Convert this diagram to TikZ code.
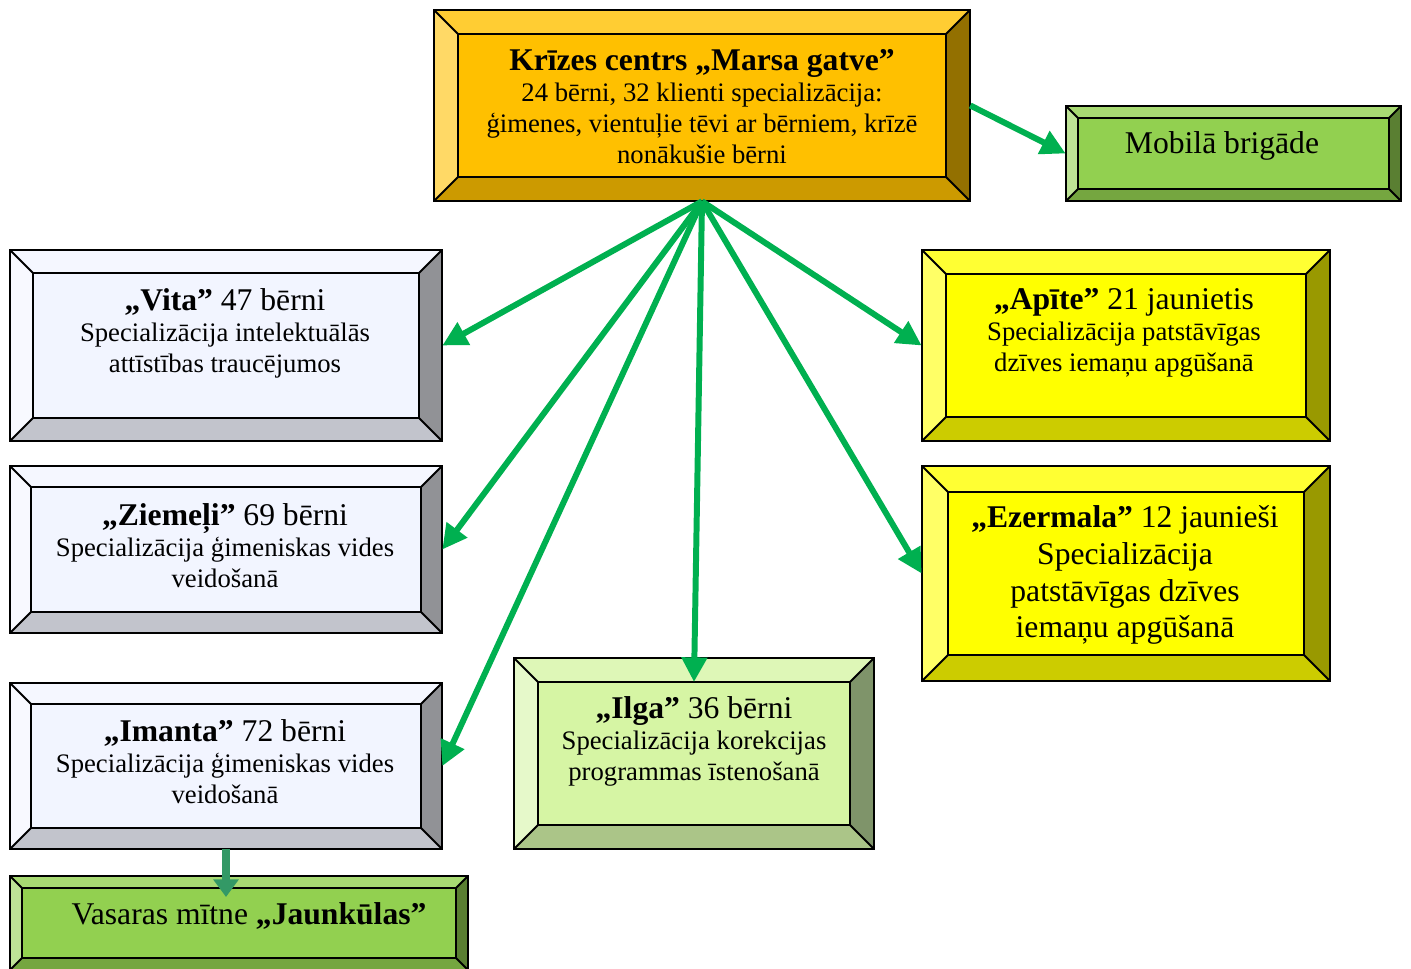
\documentclass[tikz,border=0pt]{standalone}
\usepackage{fontspec}
\setmainfont{Liberation Serif}
\usetikzlibrary{arrows.meta,fit}
\definecolor{mainC}{HTML}{FFC000}\definecolor{mainT}{HTML}{FFCD33}\definecolor{mainL}{HTML}{FFD966}
\definecolor{mainR}{HTML}{937000}\definecolor{mainB}{HTML}{CC9A00}
\definecolor{grnC}{HTML}{92D050}\definecolor{grnT}{HTML}{A8DA73}\definecolor{grnL}{HTML}{BEE396}
\definecolor{grnR}{HTML}{5A7F32}\definecolor{grnB}{HTML}{75A640}
\definecolor{gryC}{HTML}{F2F5FF}\definecolor{gryT}{HTML}{F5F7FF}\definecolor{gryL}{HTML}{F8F9FF}
\definecolor{gryR}{HTML}{919296}\definecolor{gryB}{HTML}{C2C4CC}
\definecolor{yelC}{HTML}{FFFF00}\definecolor{yelT}{HTML}{FFFF33}\definecolor{yelL}{HTML}{FFFF66}
\definecolor{yelR}{HTML}{999900}\definecolor{yelB}{HTML}{CCCC00}
\definecolor{ilgC}{HTML}{D6F5A4}\definecolor{ilgT}{HTML}{DEF7B7}\definecolor{ilgL}{HTML}{E6F9CA}
\definecolor{ilgR}{HTML}{7F946A}\definecolor{ilgB}{HTML}{ABC588}
\definecolor{arr}{HTML}{00B050}
\definecolor{arrdk}{HTML}{339966}
\tikzset{
  boxline/.style={draw=black, line width=1.1pt, line join=miter},
  conn/.style={draw=arr, line width=3.4pt, -{Triangle[length=14pt,width=14pt]}},
  conndk/.style={draw=arrdk, line width=4.4pt, -{Triangle[length=10pt,width=14pt]}},
  body/.style={align=center, inner sep=0pt, font=\fontsize{15.2}{17.6}\selectfont},
  big/.style={align=center, inner sep=0pt, font=\fontsize{18}{21}\selectfont},
}
\newcommand\ttl[1]{{\fontsize{18}{17.6}\selectfont#1}}
% #1 name, #2 x1, #3 y1, #4 x2, #5 y2, #6 bevel, #7 colour prefix
\newcommand\bevbox[7]{%
  \fill[#7T] (#2,#3) -- (#4,#3) -- ({#4-#6},{#3+#6}) -- ({#2+#6},{#3+#6}) -- cycle;
  \fill[#7B] (#2,#5) -- (#4,#5) -- ({#4-#6},{#5-#6}) -- ({#2+#6},{#5-#6}) -- cycle;
  \fill[#7L] (#2,#3) -- ({#2+#6},{#3+#6}) -- ({#2+#6},{#5-#6}) -- (#2,#5) -- cycle;
  \fill[#7R] (#4,#3) -- ({#4-#6},{#3+#6}) -- ({#4-#6},{#5-#6}) -- (#4,#5) -- cycle;
  \fill[#7C] ({#2+#6},{#3+#6}) rectangle ({#4-#6},{#5-#6});
  \draw[boxline] (#2,#3) rectangle (#4,#5) ({#2+#6},{#3+#6}) rectangle ({#4-#6},{#5-#6});
  \draw[boxline] (#2,#3) -- ({#2+#6},{#3+#6}) (#4,#3) -- ({#4-#6},{#3+#6})
     (#2,#5) -- ({#2+#6},{#5-#6}) (#4,#5) -- ({#4-#6},{#5-#6});
  \node[fit={(#2,#3) (#4,#5)}, inner sep=0pt, draw=none] (#1) {};
}
\begin{document}
\begin{tikzpicture}[x=0.02cm, y=-0.02cm]
\useasboundingbox (0,0) rectangle (1411,969);
\bevbox{main}{434}{10}{970}{201}{24}{main}
\bevbox{mob}{1066}{106}{1401}{201}{12}{grn}
\bevbox{vita}{10}{250}{442}{441}{23}{gry}
\bevbox{ziem}{10}{466}{442}{633}{21}{gry}
\bevbox{iman}{10}{683}{442}{849}{21}{gry}
\bevbox{jaun}{10}{876}{468}{970}{12}{grn}
\bevbox{apit}{922}{250}{1330}{441}{24}{yel}
\bevbox{ezer}{922}{466}{1330}{681}{26}{yel}
\bevbox{ilga}{514}{658}{874}{849}{24}{ilg}

\node[body] (tmain) at (702,107) {\ttl{\textbf{Krīzes centrs „Marsa gatve”}}\\24 bērni, 32 klienti specializācija:\\ģimenes, vientuļie tēvi ar bērniem, krīzē\\nonākušie bērni};
\node[big] (tmob) at (1222,146) {Mobilā brigāde};
\node[body] (tvita) at (225,333) {\ttl{\textbf{„Vita”} 47 bērni}\\Specializācija intelektuālās\\attīstības traucējumos};
\node[body] (tziem) at (225,546) {\ttl{\textbf{„Ziemeļi”} 69 bērni}\\Specializācija ģimeniskas vides\\veidošanā};
\node[body] (timan) at (225,762) {\ttl{\textbf{„Imanta”} 72 bērni}\\Specializācija ģimeniskas vides\\veidošanā};
\node[body] (tapit) at (1124,333) {\ttl{\textbf{„Apīte”} 21 jaunietis}\\Specializācija patstāvīgas\\dzīves iemaņu apgūšanā};
\node[big] (tezer) at (1125,575) {\textbf{„Ezermala”} 12 jaunieši\\Specializācija\\patstāvīgas dzīves\\iemaņu apgūšanā};
\node[body] (tilga) at (694,741) {\ttl{\textbf{„Ilga”} 36 bērni}\\Specializācija korekcijas\\programmas īstenošanā};
\node[big] (tjaun) at (249,916) {Vasaras mītne \textbf{„Jaunkūlas”}};

\coordinate (ilgatop) at (694,682);
\coordinate (jauntop) at (226,897);
\draw[conn] (main.east) -- (mob.west);
\draw[conn] (main.south) -- (vita.east);
\draw[conn] (main.south) -- (ziem.east);
\draw[conn] (main.south) -- (iman.east);
\draw[conn] (main.south) -- (ilgatop);
\draw[conn] (main.south) -- (apit.west);
\draw[conn] (main.south) -- (ezer.west);
\draw[conndk] (iman.south -| jauntop) -- (jauntop);
\end{tikzpicture}
\end{document}
